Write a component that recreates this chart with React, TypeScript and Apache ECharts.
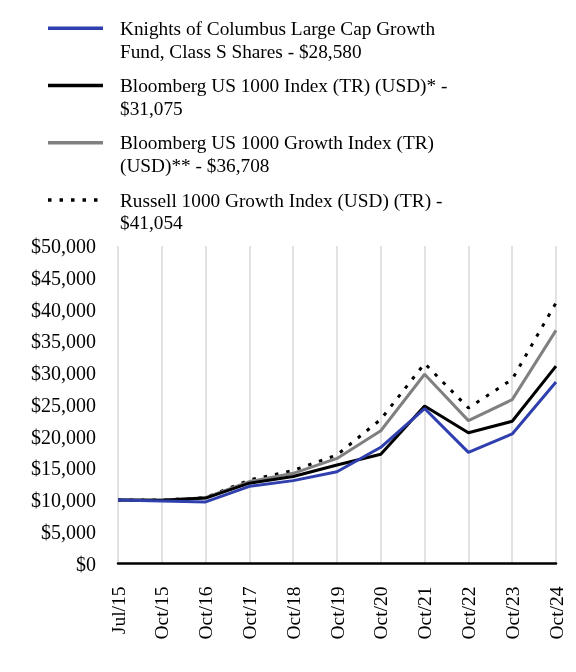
import React, { useEffect, useRef } from "react";
import * as echarts from "echarts";

const categories = ["Jul/15", "Oct/15", "Oct/16", "Oct/17", "Oct/18", "Oct/19", "Oct/20", "Oct/21", "Oct/22", "Oct/23", "Oct/24"];
const fundValues = [10000, 9850, 9700, 12150, 13050, 14450, 18300, 24400, 17500, 20400, 28580];
const bbg1000Values = [10000, 9950, 10300, 12650, 13700, 15500, 17200, 24800, 20600, 22400, 31075];
const bbgGrowthValues = [10000, 9950, 10350, 12900, 14200, 16550, 20900, 29800, 22500, 25800, 36708];
const russellValues = [10000, 9980, 10400, 13150, 14650, 17100, 22700, 31500, 24500, 29000, 41054];
const seriesNames = [
  "Knights of Columbus Large Cap Growth\nFund, Class S Shares - $28,580",
  "Bloomberg US 1000 Index (TR) (USD)* -\n$31,075",
  "Bloomberg US 1000 Growth Index (TR)\n(USD)** - $36,708",
  "Russell 1000 Growth Index (USD) (TR) -\n$41,054",
];
const yTicks = { min: 0, max: 50000, interval: 5000 };

const FONT = '"Liberation Serif", "Times New Roman", serif';
const BLUE = "#2f3fae";
const BLACK = "#000000";
const GRAY = "#808080";

export default function App() {
  const ref = useRef<HTMLDivElement>(null);
  useEffect(() => {
    if (!ref.current) return;
    const chart = echarts.init(ref.current, undefined, { renderer: "svg" });
    const styles = [
      { color: BLUE, type: "solid" as any, z: 5 },
      { color: BLACK, type: "solid" as any, z: 4 },
      { color: GRAY, type: "solid" as any, z: 3 },
      { color: BLACK, type: [3.5, 8] as any, z: 2 },
    ];
    const data = [fundValues, bbg1000Values, bbgGrowthValues, russellValues];
    const legendYs = [28.3, 85.5, 142.7, 200];
    const graphics: any[] = [];
    seriesNames.forEach((name, i) => {
      graphics.push({
        type: "line",
        shape: { x1: 48, y1: legendYs[i], x2: 103, y2: legendYs[i] },
        style: { stroke: styles[i].color, lineWidth: 3.5, lineDash: i === 3 ? [3.5, 8] : null },
      });
      graphics.push({
        type: "text",
        x: 120,
        y: legendYs[i] - 11,
        style: { text: name, font: `19.3px ${FONT}`, fill: "#000", lineHeight: 22.5, verticalAlign: "top" },
      });
    });
    chart.setOption({
      animation: false,
      grid: { left: 118, right: 20, top: 246, bottom: 108.5, containLabel: false },
      graphic: graphics,
      xAxis: {
        type: "category",
        data: categories,
        boundaryGap: false,
        axisLine: { show: true, lineStyle: { color: "#000", width: 2.5 } },
        axisTick: { show: false },
        splitLine: { show: true, lineStyle: { color: "#d9d9d9", width: 1.5 } },
        axisLabel: { rotate: 90, margin: 23, fontFamily: FONT, fontSize: 19.5, color: "#000", interval: 0 },
      },
      yAxis: {
        type: "value",
        min: yTicks.min,
        max: yTicks.max,
        interval: yTicks.interval,
        axisLine: { show: false },
        axisTick: { show: false },
        splitLine: { show: false },
        axisLabel: {
          margin: 22,
          fontFamily: FONT,
          fontSize: 20,
          color: "#000",
          formatter: (v: number) => "$" + v.toLocaleString("en-US"),
        },
      },
      series: seriesNames.map((name, i) => ({
        name,
        type: "line",
        data: data[i],
        showSymbol: false,
        symbol: "none",
        z: styles[i].z,
        lineStyle: { color: styles[i].color, width: 3, type: styles[i].type, cap: "butt" },
        itemStyle: { color: styles[i].color },
      })),
    });
    return () => chart.dispose();
  }, []);
  return <div ref={ref} style={{ position: "fixed", left: 0, top: 0, width: 576, height: 672 }} />;
}
